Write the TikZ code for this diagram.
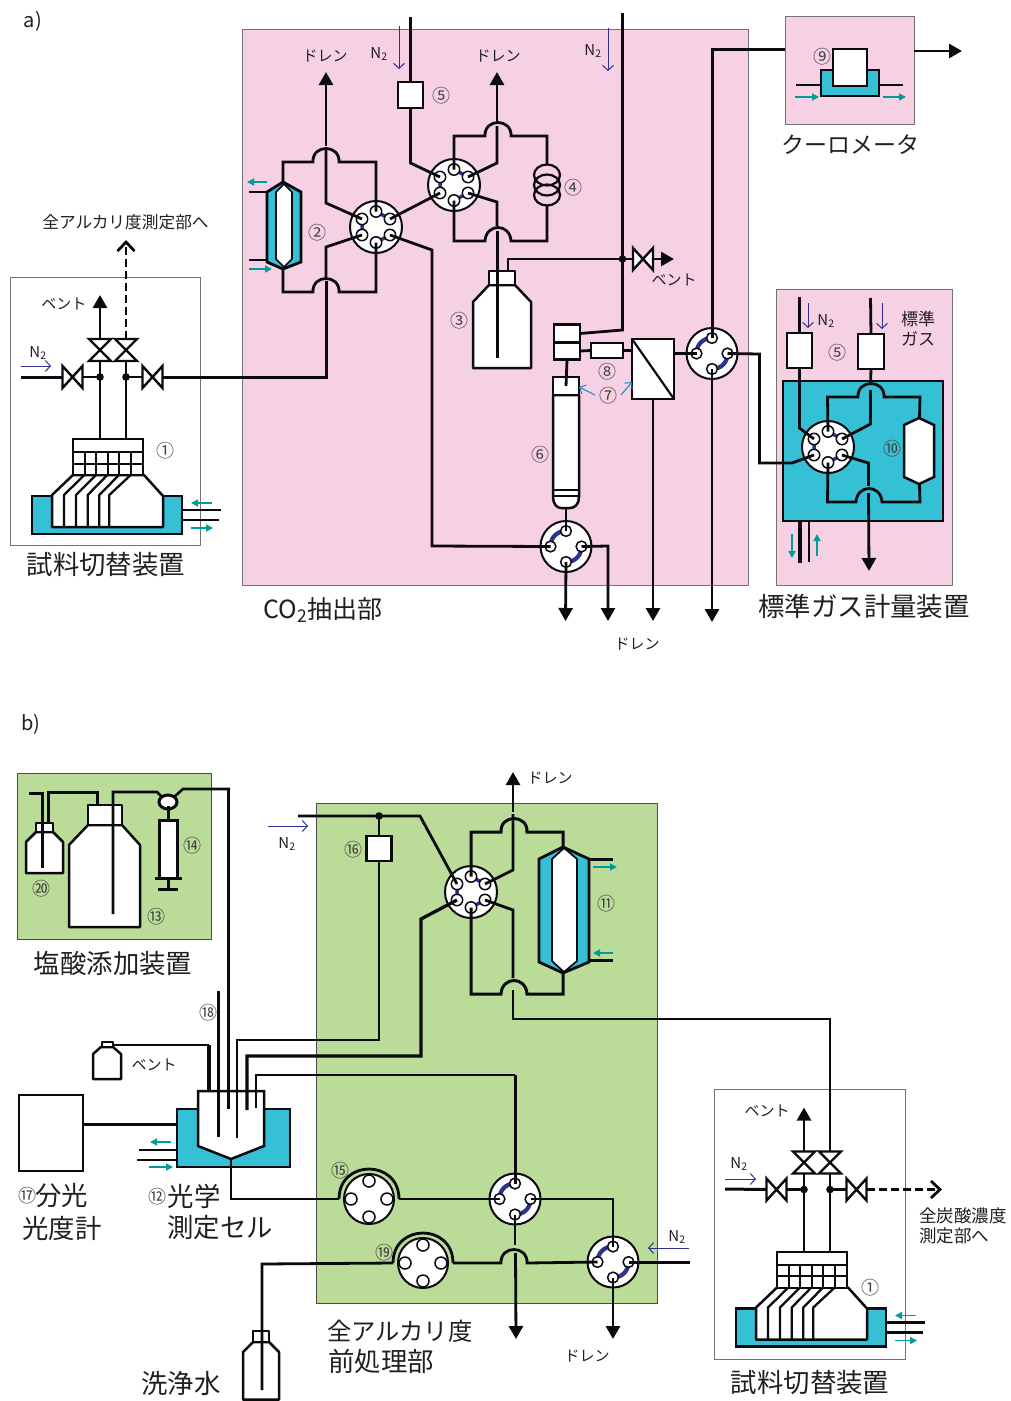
\documentclass[tikz,border=0pt]{standalone}
\usepackage{fontspec}
\setmainfont{Noto Sans CJK JP}
\usetikzlibrary{arrows.meta}
\definecolor{pinkbg}{HTML}{F5D1E3}
\definecolor{greenbg}{HTML}{BBDB98}
\definecolor{cyanbath}{HTML}{35C0D5}
\definecolor{tealarr}{HTML}{009B9B}
\definecolor{navy}{HTML}{2E3192}
\definecolor{skyarr}{HTML}{1585C8}
\definecolor{ink}{HTML}{231F20}
\definecolor{pipe}{HTML}{0A0A0F}
\tikzset{
  pipeline/.style={draw=pipe,line width=2.8pt,line join=miter},
  thinpipe/.style={draw=pipe,line width=2pt},
  thickpipe/.style={draw=pipe,line width=3pt},
  vessel/.style={draw=pipe,line width=2.5pt,fill=white,line join=round},
  innercore/.style={draw=pipe,line width=1.7pt,fill=white,line join=round},
  bath/.style={draw=pipe,line width=2.8pt,fill=cyanbath,line join=miter},
  devbox/.style={draw=pipe,line width=2.7pt,fill=white,inner sep=0pt,outer sep=0pt,minimum width=#1},
  devbox/.default=25pt,
  panelpink/.style={fill=pinkbg,draw=black!55,line width=1pt},
  panelgreen/.style={fill=greenbg,draw=black!70,line width=1pt},
  panelwhite/.style={draw=black!55,line width=1pt},
  filledtip/.style={-{Triangle[length=13pt,width=14pt]}},
  opentip/.style={-{Straight Barb[length=9pt,width=17pt]}},
  tealflow/.style={draw=tealarr,line width=1.6pt,-{Triangle[length=7pt,width=7pt]}},
  gasflow/.style={draw=navy,line width=1pt,-{Straight Barb[length=5pt,width=11pt]}},
  skyflow/.style={draw=skyarr,line width=1pt,-{Straight Barb[length=5pt,width=10pt]}},
  dot/.style={fill=pipe,draw=none},
  txt/.style={text=ink,inner sep=0pt,yshift=-1pt,font=\fontsize{15}{19}\selectfont},
  txtbig/.style={text=ink,inner sep=0pt,align=left,font=\fontsize{26.4}{31}\selectfont},
  txtmid/.style={text=ink,inner sep=0pt,align=left,yshift=-1pt,font=\fontsize{16}{20}\selectfont},
  num/.style={text=ink!85,inner sep=0pt,yshift=-1pt,font=\fontsize{18}{20}\selectfont},
  gasn/.style={text=ink,inner sep=0pt,yshift=-1pt,font=\fontsize{15}{16}\selectfont},
  sixport/.pic={
    \fill[white] (0,0) circle[radius=26pt];
    \draw[pipe,line width=2pt] (0,0) circle[radius=26pt];
    \draw[navy,line width=3.5pt] (0,-15.5)--(14,-8) (14,8)--(0,15.5) (-14,8)--(-14,-8);
    \foreach \p in {(0,-15.5),(14,-8),(14,8),(0,15.5),(-14,8),(-14,-8)}
      \draw[pipe,line width=1.5pt,fill=white] \p circle[radius=5.7pt];
    \coordinate (-t) at (0,-15.5); \coordinate (-ur) at (14,-8); \coordinate (-lr) at (14,8);
    \coordinate (-b) at (0,15.5); \coordinate (-ll) at (-14,8); \coordinate (-ul) at (-14,-8);
  },
  fourport/.pic={
    \fill[white] (0,0) circle[radius=25.5pt];
    \draw[pipe,line width=2pt] (0,0) circle[radius=25.5pt];
    \draw[navy,line width=4.2pt] (0,-15.5) .. controls (-9,-15.5) and (-15.5,-9) .. (-15.5,0)
       (15.5,0) .. controls (15.5,9) and (9,15.5) .. (0,15.5);
    \foreach \p in {(0,-15.5),(15.5,0),(0,15.5),(-15.5,0)}
      \draw[pipe,line width=1.5pt,fill=white] \p circle[radius=5.4pt];
    \coordinate (-t) at (0,-15.5); \coordinate (-r) at (15.5,0);
    \coordinate (-b) at (0,15.5); \coordinate (-l) at (-15.5,0);
  },
  pumphead/.pic={
    \draw[pipe,line width=2.8pt] (-30,0) .. controls (-30,-40) and (30,-40) .. (30,0);
    \draw[pipe,line width=2pt,fill=white] (0,0) circle[radius=25pt];
    \foreach \p in {(0,-18),(18,0),(0,18),(-18,0)}
      \draw[pipe,line width=1.5pt,fill=white] \p circle[radius=6pt];
    \coordinate (-l) at (-30,0); \coordinate (-r) at (30,0);
  },
  valveV/.pic={
    \draw[pipe,line width=2.4pt,fill=white,line join=miter] (-11,-11)--(11,-11)--(-11,11)--(11,11)--cycle;
  },
  valveH/.pic={
    \draw[pipe,line width=2.4pt,fill=white,line join=miter] (-10,-11)--(-10,11)--(10,-11)--(10,11)--cycle;
  },
  sampler/.pic={
    \draw[bath] (32,496) rectangle (182,534);
    \draw[vessel] (144,475)--(163,496)--(163,527)--(52,527)--(52,495)--(73,475)--cycle;
    \draw[thinpipe,line width=2.3pt,line join=round]
      (84.3,475)--(64,495)--(64,527)
      (96,475)--(76,495)--(76,527)
      (107.3,475)--(87.7,495)--(87.7,527)
      (119,475)--(99.3,495)--(99.3,527)
      (130.7,475)--(109.3,495)--(109.3,527);
    \draw[thinpipe,fill=white] (73,439) rectangle (142.5,452);
    \draw[thinpipe,fill=white] (73,452) rectangle (143,475);
    \draw[thinpipe] (73,463.5)--(143,463.5);
    \foreach \x in {84.6,96.2,107.8,119.4,131} \draw[thinpipe] (\x,452)--(\x,475);
    \draw[pipeline] (100,439)--(100,361) (126,439)--(126,361) (83,377)--(100,377) (126,377)--(142,377);
    \fill[dot] (100,377) circle[radius=3.8pt] (126,377) circle[radius=3.8pt];
    \pic at (100,350) {valveV};
    \pic at (126,350) {valveV};
    \pic at (72.5,377) {valveH};
    \pic at (152.5,377) {valveH};
    \draw[pipeline,filledtip] (100,339)--(100,295);
    \draw[pipeline] (182,510)--(221,510) (182,520)--(219,520);
    \draw[tealflow] (212,503)--(191,503);
    \draw[tealflow] (191,528)--(213,528);
    \coordinate (-vl) at (62,377); \coordinate (-vr) at (163,377); \coordinate (-vt) at (126,339);
  }
}
\def\hop#1#2#3{-- (#1,#3) .. controls (#1-1,#3-18) and (#2+1,#3-18) .. (#2,#3)}
\begin{document}
\begin{tikzpicture}[x=1pt,y=-1pt]
\useasboundingbox (0,0) rectangle (1011,1401);
\fill[white] (0,0) rectangle (1011,1401);
%%%% panels
\draw[panelpink] (242,29) rectangle (748,585);
\draw[panelpink] (785,16) rectangle (914,124);
\draw[panelpink] (776,289) rectangle (952,585);
\draw[panelwhite] (10.5,277.5) rectangle (200.5,545.5);
\draw[panelwhite] (714.5,1089.5) rectangle (905.5,1359);
\draw[panelgreen] (17,773) rectangle (211,939);
\draw[panelgreen] (316.5,803.5) rectangle (657,1303);

%%%% texts a)
\node[txtbig,yshift=-2pt,font=\fontsize{20}{24}\selectfont] (la) at (33,19) {a)};
\node[txtmid,font=\fontsize{16.7}{20}\selectfont] (tAlkTo) at (125.5,221) {全アルカリ度測定部へ};
\node[txtbig] (tSamplerA) at (106,565) {試料切替装置};
\node[txtbig,font=\fontsize{25}{28}\selectfont] (tExtract) at (323,610) {CO\textsubscript{2}抽出部};
\node[txtbig] (tStdGas) at (864,606) {標準ガス計量装置};
\node[txtbig,font=\fontsize{23}{28}\selectfont] (tCoul) at (850,145) {クーロメータ};
\node[txt] (tDrain1) at (325,55) {ドレン};
\node[txt] (tDrain2) at (498,55) {ドレン};
\node[txt] (tDrain3) at (637,643) {ドレン};
\node[txt] (tVent1) at (64,303) {ベント};
\node[txt] (tVent2) at (674,279) {ベント};
\node[gasn] (tNa) at (38,352) {N\textsubscript{2}};
\node[gasn] (tNb) at (379,53) {N\textsubscript{2}};
\node[gasn] (tNc) at (593,50) {N\textsubscript{2}};
\node[gasn] (tNd) at (826,320) {N\textsubscript{2}};
\node[txtmid,font=\fontsize{17}{20}\selectfont] (tStd) at (918,328) {標準\\ガス};
\node[num] (n1a) at (165,450) {①};
\node[num] (n2) at (317,232) {②};
\node[num] (n3) at (459,320) {③};
\node[num] (n4) at (573,187) {④};
\node[num] (n5a) at (441,95) {⑤};
\node[num] (n5b) at (837,352) {⑤};
\node[num] (n6) at (540,454) {⑥};
\node[num] (n7) at (608,395) {⑦};
\node[num] (n8) at (607,371) {⑧};
\node[num] (n9) at (822,56) {⑨};

%%%% sampler a
\pic (sa) at (0,0) {sampler};
\coordinate (n2inA) at (21,377);
\draw[pipeline,line width=3pt] (n2inA)--(sa-vl);
\draw[gasflow] (21,366)--(51,366);
\coordinate (alkTip) at (126,240);
\draw[pipeline,opentip,dash pattern=on 8pt off 4pt] (sa-vt)--(alkTip);
%%%% devices a
\draw[bath] (267,192)--(283,182)--(301,192)--(301,262)--(283,269)--(267,262)--cycle;
\draw[innercore] (276,192)--(284,184)--(292,192)--(292,259)--(284,267)--(276,259)--cycle;
\draw[pipeline] (249,192)--(267,192) (249,260)--(267,260);
\draw[tealflow] (267,182)--(247,182);
\draw[tealflow] (249,269)--(272,269);
\pic (v1) at (376,227) {sixport};
\pic (v2) at (454,185) {sixport};
\node[devbox,minimum height=26pt] (b5) at (410.5,95) {};
\draw[pipeline,line width=2.2pt] (547,175) ellipse[x radius=13pt,y radius=10.5pt];
\draw[pipeline,line width=2.2pt] (547,185) ellipse[x radius=13pt,y radius=10.5pt];
\draw[pipeline,line width=2.2pt] (547,195) ellipse[x radius=13pt,y radius=10.5pt];
\coordinate (coilT) at (547,164.5); \coordinate (coilB) at (547,205.5);
% bottle 3
\draw[vessel] (489,285)--(473,302)--(473,368)--(531,368)--(531,302)--(515,285)--cycle;
\draw[vessel] (489,271) rectangle (515,285);
\coordinate (capTop) at (508,271);
% vents
\fill[dot] (622.5,259) circle[radius=3.8pt];
\coordinate (jVent) at (622.5,259);
\pic at (643,259) {valveH};
\coordinate (ventIn) at (633,259); \coordinate (ventOut) at (653,259);
\coordinate (ventTip) at (674,259);
% stacked cells
\node[devbox=26pt,minimum height=17.5pt] (cellA) at (567,333.5) {};
\node[devbox=26pt,minimum height=17.5pt] (cellB) at (567,351) {};
\node[devbox=32pt,minimum height=15pt] (b8) at (607,350.5) {};
\node[devbox=42pt,minimum height=60pt] (mem) at (653,369) {};
\draw[pipeline,line width=2.2pt] (mem.north west)--(mem.south east);
% tube 6
\draw[vessel] (553,395)--(553,497) .. controls (553,504) and (557,508) .. (561,508) -- (570,508) .. controls (575,508) and (579,504) .. (579,497) -- (579,395)--cycle;
\draw[thinpipe] (553,490)--(579,490) (553,496)--(579,496);
\node[devbox=26pt,minimum height=18pt] (tubeCap) at (566,386) {};
\pic (v3) at (566,546.5) {fourport};
\pic (v4) at (712,353.5) {fourport};
% coulometer
\draw[bath] (821,70) rectangle (879,96);
\node[devbox=34pt,minimum height=37pt] (coulBox) at (850,67.5) {};
\coordinate (coulIn) at (796,85); \coordinate (coulOut) at (903,85);
\draw[pipeline] (coulIn)--(821,85) (879,85)--(coulOut);
\draw[tealflow] (795,97)--(819,97);
\draw[tealflow] (883,97)--(906,97);
% standard gas
\draw[bath] (783,381) rectangle (943,521);
\node[num] (n10) at (892,448) {⑩};
\node[devbox,minimum height=35pt] (b5L) at (799.5,350.5) {};
\node[devbox=26pt,minimum height=35pt] (b5R) at (871,351.5) {};
\draw[vessel,line join=miter] (904,425)--(919,418)--(934,425)--(934,477)--(919,484)--(904,477)--cycle;
\coordinate (hcT) at (919.5,418); \coordinate (hcB) at (919.5,484);
\pic (v5) at (828,447) {sixport};

%%%% pipes a
\draw[pipeline] (283,182)--(283,162) \hop{313}{339}{162} -- (376,162) -- (v1-t);
\draw[pipeline] (283,269)--(283,292) \hop{313}{339}{292} -- (376,292) -- (v1-b);
\coordinate (drainA) at (326,72);
\draw[pipeline] (v1-ul)--(326,203)--(326,150);
\draw[pipeline,filledtip] (326,146)--(drainA);
\draw[pipeline] (v1-ll)--(326,247)--(326,279);
\draw[pipeline,line width=3pt] (326,281)--(326,377)--(sa-vr);
\draw[pipeline] (v1-ur)--(v2-ll);
\coordinate (v3L) at (432,546);
\draw[pipeline] (v1-lr)--(432,250)--(432,546)--(v3-l);
\draw[pipeline] (v2-ul)--(410.5,163)--(b5.south);
\coordinate (inlet5) at (410.5,17);
\draw[pipeline,line width=3pt] (b5.north)--(inlet5);
\draw[gasflow] (399,26)--(399,69);
\draw[pipeline] (v2-t)--(454,136) \hop{485}{511}{136} -- (547,136) -- (coilT);
\draw[pipeline] (coilB)--(547,241) \hop{511}{485}{241} -- (454,241) -- (v2-b);
\draw[pipeline] (v2-ur)--(497,163)--(497,126);
\coordinate (drainB) at (497,72);
\draw[pipeline,filledtip] (497,122)--(drainB);
\draw[pipeline] (v2-lr)--(497,202)--(497,226);
\draw[pipeline,line width=3pt] (497,231)--(497,358);
\draw[pipeline] (capTop)--(508,259)--(jVent)--(ventIn);
\draw[pipeline,filledtip] (ventOut)--(ventTip);
\coordinate (topN) at (622.5,13);
\draw[pipeline] (topN)--(jVent)--(622.5,330)--(cellA.east);
\draw[gasflow] (608,28)--(608,71);
\draw[pipeline] (cellB.east)--(b8.west);
\draw[pipeline] (b8.east)--(mem.west |- b8.east);
\draw[pipeline] (cellB.south)--(tubeCap.center);
\draw[skyflow] (595,395)--(579,387);
\draw[skyflow] (621,395)--(632,382);
\draw[pipeline] (v4-l)--(mem.east |- v4-l);
\coordinate (dr1) at (565.5,621); \coordinate (dr2) at (608,621);
\coordinate (dr3) at (653,621); \coordinate (dr4) at (712,622);
\draw[pipeline,filledtip] (v3-b)--(dr1);
\draw[pipeline] (v3-t)--(566,508);
\draw[pipeline,filledtip] (v3-r)--(608,546)--(dr2);
\draw[pipeline,filledtip] (mem.south)--(dr3);
\draw[pipeline,filledtip] (v4-b)--(dr4);
\draw[pipeline,line width=3pt] (v4-t)--(712,49)--(785,49);
\coordinate (coulTip) at (962,51);
\draw[pipeline,filledtip] (914,51)--(coulTip);
\draw[pipeline] (v4-r)--(759.5,354)--(759.5,463)--(792,463)--(v5-ll);
\coordinate (nL) at (799.5,297); \coordinate (nR) at (870.5,298);
\draw[pipeline] (nL)--(b5L.north);
\draw[pipeline] (nR)--(b5R.north);
\draw[gasflow] (808,303)--(808,328);
\draw[gasflow] (882,303)--(882,329);
\draw[pipeline] (b5L.south)--(799.5,428)--(v5-ul);
\draw[pipeline] (b5R.south)--(870.5,385);
\draw[pipeline] (870.5,390)--(870.5,424)--(v5-ur);
\draw[pipeline] (v5-t)--(827.5,397) \hop{858}{884}{397} -- (920,397) -- (hcT);
\draw[pipeline] (hcB)--(920,502) \hop{882}{856}{502} -- (827.5,502) -- (v5-b);
\draw[pipeline] (v5-lr)--(868.5,463)--(868.5,486);
\coordinate (stdDrain) at (869,571);
\draw[pipeline,filledtip] (868.5,493)--(stdDrain);
\draw[pipeline,line width=3.3pt] (800,521)--(800,563);
\draw[pipeline] (809,521)--(809,562);
\draw[tealflow] (792,534)--(792,558);
\draw[tealflow] (817,556)--(817,534);

%%%% texts b)
\node[txtbig,yshift=-2pt,font=\fontsize{20}{24}\selectfont] (lb) at (31,722) {b)};
\node[txtbig] (tHCl) at (113,963) {塩酸添加装置};
\node[txtbig] (tSpec) at (62,1196) {分光};
\node[txtbig] (tSpec2) at (62,1228) {光度計};
\node[txtbig] (tCell) at (194,1196) {光学};
\node[txtbig] (tCell2) at (220,1228) {測定セル};
\node[txtbig] (tWash) at (181,1383) {洗浄水};
\node[txtbig] (tPre) at (400,1331) {\fontsize{24.3}{30}\selectfont 全アルカリ度};
\node[txtbig,anchor=west] (tPre2) at (328,1361) {前処理部};
\node[txtbig] (tSamplerB) at (810,1383) {試料切替装置};
\node[txtmid,font=\fontsize{17.5}{20}\selectfont] (tDic) at (963,1225) {全炭酸濃度\\測定部へ};
\node[txt] (tDrain4) at (550,777) {ドレン};
\node[txt] (tDrain5) at (587,1355) {ドレン};
\node[txt] (tVent3) at (154,1064) {ベント};
\node[txt] (tVent4) at (767,1110) {ベント};
\node[gasn] (tNe) at (287,843) {N\textsubscript{2}};
\node[gasn] (tNf) at (677,1236) {N\textsubscript{2}};
\node[gasn] (tNg) at (739,1163) {N\textsubscript{2}};
\node[num] (n1b) at (870,1287) {①};
\node[num] (n11) at (606,903) {⑪};
\node[num] (n12) at (157,1196) {⑫};
\node[num] (n13) at (156,916) {⑬};
\node[num] (n14) at (192,845) {⑭};
\node[num] (n15) at (340,1170) {⑮};
\node[num] (n16) at (353,849) {⑯};
\node[num] (n17) at (28,1195) {⑰};
\node[num] (n18) at (208,1012) {⑱};
\node[num] (n19) at (384,1252) {⑲};
\node[num] (n20) at (41,888) {⑳};

%%%% devices b
% HCl panel
\draw[vessel] (36,832)--(26,842)--(26,873)--(63,873)--(63,842)--(53,832)--cycle;
\draw[vessel] (36,823) rectangle (53,832);
\draw[vessel] (88,825)--(69,845)--(69,927)--(140,927)--(140,845)--(122,825)--cycle;
\draw[vessel] (88,805) rectangle (122,825);
\draw[thickpipe,fill=white] (168,802) ellipse[x radius=9pt,y radius=7pt];
\draw[thickpipe,fill=white] (159.5,820) rectangle (177.5,878);
\draw[thickpipe] (155,878.5)--(182,878.5) (168,878.5)--(168,889) (158,889)--(178,889) (168,806)--(168,820);
\draw[pipeline,line width=3pt] (29,793)--(42,793)--(42,868);
\draw[pipeline,line width=3pt] (48,823)--(48,792)--(97,792)--(97,805);
\draw[pipeline,line width=2.6pt] (113,914)--(113,792)--(157,792)--(162,797);
\draw[pipeline,line width=2.6pt] (174,797)--(183,789)--(230,789);
% column 11
\draw[bath] (539,859)--(563,847)--(589,859)--(589,962)--(563,973)--(539,962)--cycle;
\draw[innercore] (552,859)--(564,848)--(577,859)--(577,961)--(564,972)--(552,961)--cycle;
\draw[pipeline,line width=3pt] (589,859)--(613,859) (589,960)--(613,960);
\draw[tealflow] (593,867)--(617,867);
\draw[tealflow] (613,953)--(593,953);
\pic (v6) at (471,892) {sixport};
\node[devbox,minimum height=25pt] (b16) at (379,848.5) {};
\fill[dot] (379,816) circle[radius=3.8pt];
\coordinate (j16) at (379,816);
% cell 12
\draw[bath] (177,1109) rectangle (290,1167);
\draw[vessel,line join=miter] (198,1091)--(264,1091)--(264,1146)--(231,1159)--(198,1146)--cycle;
\coordinate (cellTip) at (231,1159);
\node[devbox=64pt,minimum height=76pt] (spec) at (51,1133) {};
\pic (p15) at (369,1199) {pumphead};
\pic (p19) at (423,1263) {pumphead};
\pic (v7) at (515,1199) {fourport};
\pic (v8) at (613,1262) {fourport};
% vent bottle
\draw[vessel] (101,1047)--(93,1054)--(93,1079)--(121,1079)--(121,1054)--(113,1047)--cycle;
\draw[vessel] (102,1042) rectangle (113,1047);
% wash bottle
\draw[vessel] (253,1342)--(243,1352)--(243,1399.5)--(279,1399.5)--(279,1352)--(269,1342)--cycle;
\draw[vessel] (253,1331) rectangle (269,1342);
% sampler b
\pic (sb) at (704,812.5) {sampler};

%%%% pipes b
\draw[pipeline,line width=3pt] (228,789)--(228,1109);
\draw[pipeline,line width=3pt] (218,991)--(218,1137);
\draw[pipeline,line width=2pt] (113,1045)--(209,1045);
\draw[pipeline,line width=3.5pt] (209,1045)--(209,1091);
\draw[pipeline] (237,1138)--(237,1040)--(379,1040)--(b16.south);
\draw[pipeline,line width=3.3pt] (247,1110)--(247,1056)--(421,1056)--(421,919)--(v6-ll);
\draw[pipeline] (256,1108)--(256,1075)--(515,1075);
\draw[pipeline,line width=3pt] (515,1075)--(v7-t);
\coordinate (n2L) at (298,816);
\draw[pipeline] (n2L)--(j16)--(420,816)--(v6-ul);
\draw[pipeline] (j16)--(b16.north);
\draw[gasflow] (268,826)--(308,826);
\draw[pipeline,line width=3pt] (v6-t)--(471,832) \hop{501}{527}{832} -- (563,832) -- (563,847);
\draw[pipeline,line width=3pt] (563,973)--(563,994) \hop{527}{501}{994} -- (471,994) -- (v6-b);
\coordinate (drainC) at (513,772);
\draw[pipeline] (v6-ur)--(513,870)--(513,814);
\draw[pipeline,filledtip] (513,812)--(drainC);
\draw[pipeline] (v6-lr)--(513,910)--(513,978);
\draw[pipeline] (513,990)--(513,1019)--(830,1019)--(sb-vt);
\draw[pipeline,line width=3pt] (spec.east |- 0,1124)--(177,1124);
\draw[pipeline] (139,1150)--(178,1150) (137,1160)--(177,1160);
\draw[tealflow] (171,1142)--(150,1142);
\draw[tealflow] (149,1167)--(173,1167);
\draw[pipeline] (cellTip)--(231,1199)--(p15-l);
\draw[pipeline] (p15-r)--(v7-l);
\draw[pipeline] (v7-r)--(613,1199)--(v8-t);
\coordinate (drainD) at (516,1339); \coordinate (drainE) at (613,1339);
\draw[pipeline] (v7-b)--(515,1245);
\draw[pipeline,filledtip] (515.5,1253)--(drainD);
\draw[pipeline,filledtip] (v8-b)--(drainE);
\coordinate (n2R) at (690,1262);
\draw[pipeline,line width=3pt] (v8-r)--(n2R);
\draw[gasflow] (689,1248)--(648,1248);
\draw[pipeline] (p19-r)\hop{501}{527}{1263} -- (v8-l);
\draw[pipeline] (p19-l)--(262,1264)--(262,1390);
\coordinate (n2inB) at (725,1189);
\draw[pipeline,line width=3pt] (n2inB)--(sb-vl);
\draw[gasflow] (725,1179)--(756,1179);
\coordinate (dicTip) at (942,1189.5);
\draw[pipeline,opentip,dash pattern=on 8pt off 4pt] (sb-vr)--(dicTip);
\end{tikzpicture}
\end{document}
